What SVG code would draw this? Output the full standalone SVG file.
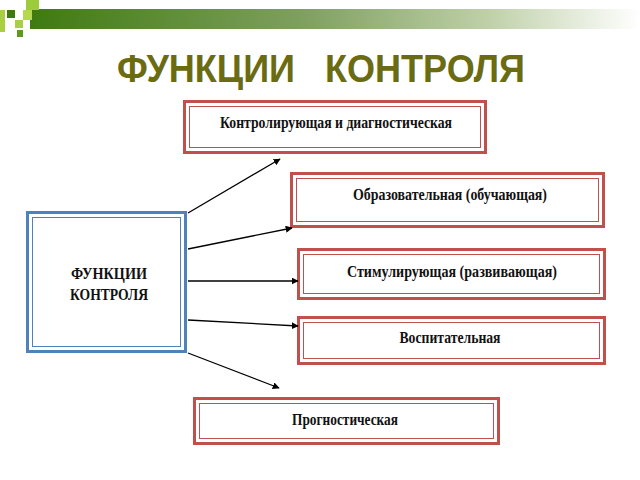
<svg xmlns="http://www.w3.org/2000/svg" width="640" height="480" viewBox="0 0 640 480">
<defs>
<linearGradient id="bar" x1="0" y1="0" x2="1" y2="0">
<stop offset="0" stop-color="#3F7A10"/>
<stop offset="0.45" stop-color="#7FA060"/>
<stop offset="0.75" stop-color="#BFD0A8"/>
<stop offset="1" stop-color="#FFFFFF"/>
</linearGradient>
<marker id="arr" viewBox="0 0 10 10" refX="9" refY="5" markerWidth="7" markerHeight="7" markerUnits="userSpaceOnUse" orient="auto">
<path d="M0,0 L10,5 L0,10 z" fill="#000"/>
</marker>
<style>
.ro{fill:#fff;stroke:#C0504D;stroke-width:3}
.ri{fill:none;stroke:#C0504D;stroke-width:1}
.bo{fill:#fff;stroke:#4F81BD;stroke-width:3}
.bi{fill:none;stroke:#4F81BD;stroke-width:1}
.t{font-family:"Liberation Serif","Times New Roman",serif;font-weight:bold;font-size:16px;fill:#111;text-anchor:middle}
.c{stroke:#000;stroke-width:1.3;fill:none;marker-end:url(#arr)}
</style>
</defs>
<rect width="640" height="480" fill="#fff"/>
<g id="header">
<rect x="30" y="9" width="610" height="20" fill="url(#bar)"/>
<rect x="0" y="10" width="5" height="22" fill="#A8D040"/>
<rect x="7" y="10" width="8" height="8" fill="#3F7A10"/>
<rect x="26" y="0" width="13" height="10" fill="#9CCB3C"/>
<rect x="23" y="10" width="9" height="10" fill="#B6D84E"/>
<rect x="15" y="20" width="8" height="8" fill="#A8D040"/>
<rect x="17" y="30" width="6" height="7" fill="#5E9A20"/>
</g>
<text x="321" y="82" font-family="Liberation Sans, Arial, sans-serif" font-weight="bold" font-size="39" fill="#6B6B12" text-anchor="middle" textLength="408" lengthAdjust="spacingAndGlyphs" xml:space="preserve">ФУНКЦИИ   КОНТРОЛЯ</text>
<g id="main">
<rect class="bo" x="27.5" y="212.5" width="158" height="139"/>
<rect class="bi" x="32.5" y="217.5" width="148" height="129"/>
<text class="t" x="109" y="279" font-size="18" textLength="76" lengthAdjust="spacingAndGlyphs">ФУНКЦИИ</text>
<text class="t" x="109" y="300" font-size="18" textLength="78" lengthAdjust="spacingAndGlyphs">КОНТРОЛЯ</text>
</g>
<g id="n1">
<rect class="ro" x="184.5" y="101.5" width="301" height="51"/>
<rect class="ri" x="189.5" y="106.5" width="291" height="41"/>
<text class="t" x="336" y="128" textLength="232" lengthAdjust="spacingAndGlyphs">Контролирующая и диагностическая</text>
</g>
<g id="n2">
<rect class="ro" x="291.5" y="173.5" width="312" height="53"/>
<rect class="ri" x="296.5" y="178.5" width="302" height="43"/>
<text class="t" x="450" y="200" textLength="194" lengthAdjust="spacingAndGlyphs">Образовательная (обучающая)</text>
</g>
<g id="n3">
<rect class="ro" x="298.5" y="249.5" width="306" height="49"/>
<rect class="ri" x="303.5" y="254.5" width="296" height="39"/>
<text class="t" x="452" y="277" textLength="210" lengthAdjust="spacingAndGlyphs">Стимулирующая (развивающая)</text>
</g>
<g id="n4">
<rect class="ro" x="298.5" y="317.5" width="306" height="46"/>
<rect class="ri" x="303.5" y="322.5" width="296" height="36"/>
<text class="t" x="450" y="343" textLength="101" lengthAdjust="spacingAndGlyphs">Воспитательная</text>
</g>
<g id="n5">
<rect class="ro" x="194.5" y="398.5" width="304" height="45"/>
<rect class="ri" x="199.5" y="403.5" width="294" height="35"/>
<text class="t" x="345" y="425" textLength="106" lengthAdjust="spacingAndGlyphs">Прогностическая</text>
</g>
<g id="connectors">
<line class="c" x1="188" y1="213" x2="280" y2="159"/>
<line class="c" x1="188" y1="249" x2="292" y2="228"/>
<line class="c" x1="188" y1="281" x2="298" y2="281"/>
<line class="c" x1="188" y1="320" x2="298" y2="326"/>
<line class="c" x1="188" y1="353" x2="279" y2="388"/>
</g>
</svg>
